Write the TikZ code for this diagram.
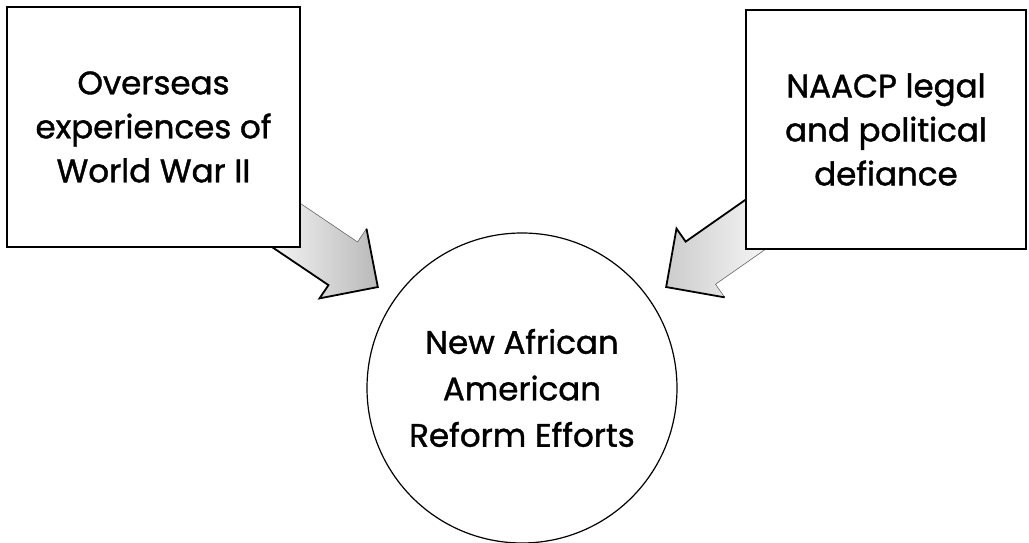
\documentclass[tikz,border=0pt]{standalone}
\usepackage{fontspec}
\setmainfont{Poppins}[FakeBold=1.2]
\usetikzlibrary{calc,backgrounds}

\tikzset{
  pics/blockarr/.style={code={
    \fill[#1] (0,0) -- (-42,42) -- (-42,26) -- (-134,26) -- (-134,-26)
      -- (-42,-26) -- (-42,-42) -- cycle;
    \draw[line width=0.6pt, black!55] (-42,42) -- (-42,26) -- (-134,26);
    \draw[line width=1.8pt, line join=miter] (-42,42) -- (0,0) -- (-42,-42)
      -- (-42,-26) -- (-134,-26);
  }}
}

\begin{document}
\begin{tikzpicture}[
    x=1pt, y=1pt,
    topicbox/.style={
        rectangle,
        draw=black,
        fill=white,
        line width=1.2pt,
        align=center,
        font=\fontsize{32.5}{44}\selectfont
    },
    goalcircle/.style={
        circle,
        draw=black,
        line width=1.2pt,
        minimum size=310pt,
        align=center,
        font=\fontsize{32.5}{46.5}\selectfont
    }
]
\useasboundingbox (0,0) rectangle (1029,543);

\node[goalcircle] (reform) at (522,155) {New African\\American\\Reform Efforts};
\node[topicbox, minimum width=293pt, minimum height=240pt] (ww2) at (153.5,416)
    {Overseas\\experiences of\\World War II};
\node[topicbox, minimum width=280pt, minimum height=239pt] (naacp) at (886,413.5)
    {NAACP legal\\and political\\defiance};

% block arrows, tails hidden behind the boxes
\begin{scope}[on background layer]
\coordinate (tipL) at ($(reform.center)+(145:176)$);
\coordinate (tipR) at ($(reform.center)+(35:176)$);
\pic[rotate=-34] at (tipL) {blockarr={left color=white, right color=gray!55}};
\pic[rotate=215] at (tipR) {blockarr={left color=gray!40, right color=white}};
\end{scope}
\end{tikzpicture}
\end{document}
